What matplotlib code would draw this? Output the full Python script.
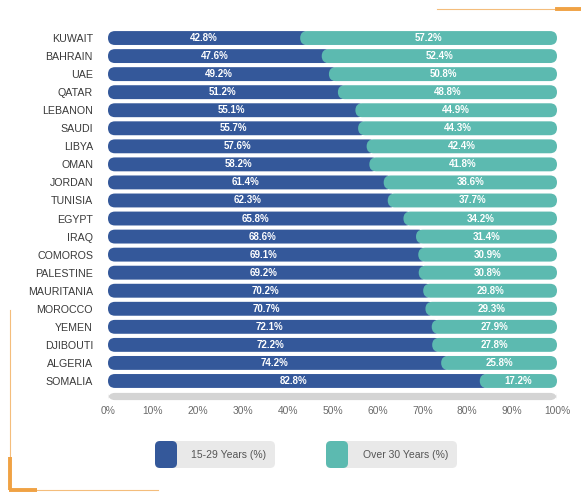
import matplotlib.pyplot as plt
from matplotlib.patches import FancyBboxPatch

plt.rcParams['font.family'] = ['Liberation Sans', 'DejaVu Sans']

countries = ['KUWAIT', 'BAHRAIN', 'UAE', 'QATAR', 'LEBANON', 'SAUDI', 'LIBYA',
             'OMAN', 'JORDAN', 'TUNISIA', 'EGYPT', 'IRAQ', 'COMOROS', 'PALESTINE',
             'MAURITANIA', 'MOROCCO', 'YEMEN', 'DJIBOUTI', 'ALGERIA', 'SOMALIA']
young = [42.8, 47.6, 49.2, 51.2, 55.1, 55.7, 57.6, 58.2, 61.4, 62.3,
         65.8, 68.6, 69.1, 69.2, 70.2, 70.7, 72.1, 72.2, 74.2, 82.8]
older = [57.2, 52.4, 50.8, 48.8, 44.9, 44.3, 42.4, 41.8, 38.6, 37.7,
         34.2, 31.4, 30.9, 30.8, 29.8, 29.3, 27.9, 27.8, 25.8, 17.2]
ticks = list(range(0, 101, 10))
legend_labels = ['15-29 Years (%)', 'Over 30 Years (%)']

BLUE = '#34589a'
TEAL = '#5cbab0'
ORANGE = '#f0a244'
LABEL_FONT = ['Liberation Sans Narrow', 'Liberation Sans', 'DejaVu Sans']

W, H = 581, 494
fig = plt.figure(figsize=(W / 100, H / 100), dpi=100)

# background overlay in pixel units for the decorations and the legend
deco = fig.add_axes([0, 0, 1, 1])
deco.set_xlim(0, W)
deco.set_ylim(H, 0)
deco.axis('off')

ax = fig.add_axes([108 / W, 1 - 403 / H, 449 / W, 374 / H])
rows = list(range(len(countries)))
ax.set_xlim(0, 100)
ax.set_ylim(20.22, -0.5)

# x units -> y units ratio for round corners
aspect = (449 / 100) / 18.05
rad = 1.55


def rounded(rect, color, extra=0.0, z=2):
    x, y = rect.get_xy()
    p = FancyBboxPatch((x, y), rect.get_width() + extra, rect.get_height(),
                       boxstyle=f'round,pad=0,rounding_size={rad}',
                       mutation_aspect=aspect, fc=color, ec='none', zorder=z)
    rect.set_visible(False)
    ax.add_patch(p)


b1 = ax.barh(rows, young, height=0.77)
b2 = ax.barh(rows, older, left=young, height=0.77)
track = ax.barh([len(countries) - 0.14], [100], height=0.4)

for r in b1:
    rounded(r, BLUE, extra=rad + 0.5, z=2)
for r in b2:
    rounded(r, TEAL, z=3)
for r in track:
    rounded(r, '#d4d4d4', z=1)

for i in rows:
    ax.text(young[i] / 2, i, f'{young[i]}%', ha='center', va='center',
            color='white', fontsize=7, fontweight='bold', family=LABEL_FONT, zorder=5)
    ax.text(young[i] + older[i] / 2, i, f'{older[i]}%', ha='center', va='center',
            color='white', fontsize=7, fontweight='bold', family=LABEL_FONT, zorder=5)

ax.set_yticks(rows, countries)
ax.set_xticks(ticks, [f'{t}%' for t in ticks])
ax.tick_params(axis='y', length=0, pad=10.8, labelsize=7.7, labelcolor='#3a3a3a')
ax.tick_params(axis='x', length=0, pad=2.5, labelsize=7.4, labelcolor='#6a6a6a')
for s in ax.spines.values():
    s.set_visible(False)
ax.patch.set_alpha(0)

# orange corner decorations
deco.plot([437, W], [9, 9], color=ORANGE, lw=0.8, alpha=0.7)
deco.plot([557, W], [9, 9], color=ORANGE, lw=2.8)
deco.plot([10, 10], [310, 490], color=ORANGE, lw=0.8, alpha=0.7)
deco.plot([10, 158], [490, 490], color=ORANGE, lw=0.8, alpha=0.7)
deco.plot([10, 10], [457, 490], color=ORANGE, lw=2.8, solid_capstyle='butt')
deco.plot([9, 37], [490, 490], color=ORANGE, lw=2.8, solid_capstyle='butt')

# legend
for x0, x1, tx, col, lab in [(155, 275, 191, BLUE, legend_labels[0]),
                             (326, 457, 363, TEAL, legend_labels[1])]:
    deco.add_patch(FancyBboxPatch((x0, 441), x1 - x0, 27,
                                  boxstyle='round,pad=0,rounding_size=5',
                                  fc='#e9e9e9', ec='none'))
    deco.add_patch(FancyBboxPatch((x0, 441), 22, 27,
                                  boxstyle='round,pad=0,rounding_size=5',
                                  fc=col, ec='none'))
    deco.text(tx, 455, lab, ha='left', va='center', fontsize=7.5, color='#555555')

fig.savefig('out.png', dpi=100)
